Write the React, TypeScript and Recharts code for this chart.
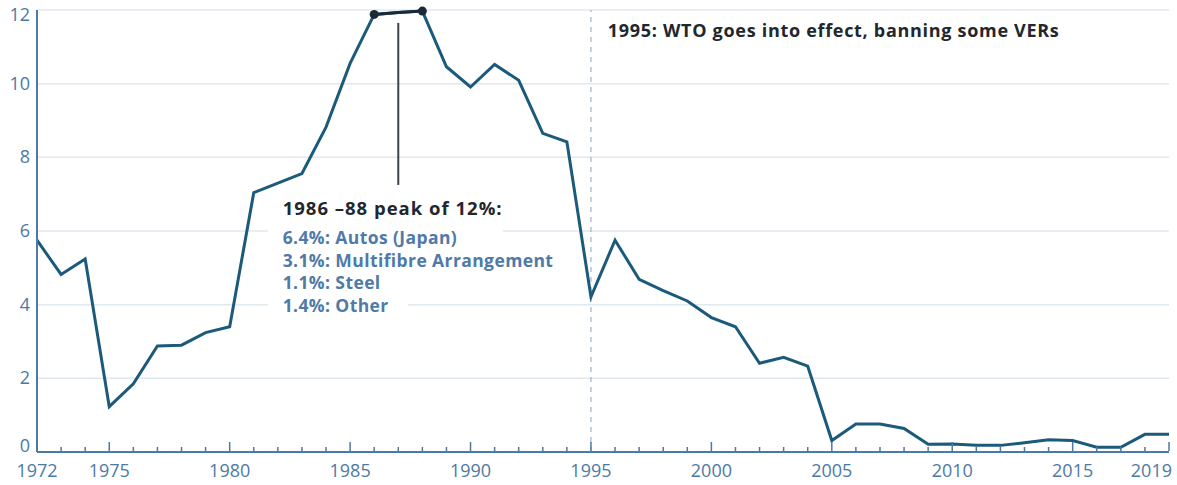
import React from "react";
import {
  LineChart,
  Line,
  XAxis,
  YAxis,
  CartesianGrid,
  ReferenceLine,
  ReferenceDot,
} from "recharts";

const years = [
  1972, 1973, 1974, 1975, 1976, 1977, 1978, 1979, 1980, 1981, 1982, 1983,
  1984, 1985, 1986, 1987, 1988, 1989, 1990, 1991, 1992, 1993, 1994, 1995,
  1996, 1997, 1998, 1999, 2000, 2001, 2002, 2003, 2004, 2005, 2006, 2007,
  2008, 2009, 2010, 2011, 2012, 2013, 2014, 2015, 2016, 2017, 2018, 2019,
];

const shares = [
  5.75, 4.82, 5.24, 1.23, 1.85, 2.88, 2.9, 3.24, 3.4, 7.04, 7.3, 7.56,
  8.82, 10.55, 11.88, 11.93, 11.97, 10.46, 9.91, 10.52, 10.09, 8.65, 8.42, 4.21,
  5.75, 4.69, 4.38, 4.1, 3.65, 3.4, 2.41, 2.57, 2.33, 0.31, 0.76, 0.76,
  0.64, 0.21, 0.22, 0.18, 0.18, 0.25, 0.33, 0.31, 0.13, 0.13, 0.48, 0.48,
];

const labeledYears = [1972, 1975, 1980, 1985, 1990, 1995, 2000, 2005, 2010, 2015, 2019];
const yTicks = [0, 2, 4, 6, 8, 10, 12];
const peakYears = [1986, 1987, 1988];
const peakDotYears = [1986, 1988];

const peakTitle = "1986 \u201388 peak of 12%:";
const peakLines = [
  "6.4%: Autos (Japan)",
  "3.1%: Multifibre Arrangement",
  "1.1%: Steel",
  "1.4%: Other",
];
const wtoNote = "1995: WTO goes into effect, banning some VERs";

const data = years.map((year, i) => ({
  year,
  share: shares[i],
  peak: peakYears.includes(year) ? shares[i] : null,
}));

const FONT = "'Open Sans', sans-serif";
const AXIS_BLUE = "#4d79a5";
const LINE_BLUE = "#1c5a7c";
const DARK = "#22272d";

function XTick({ x, y, payload }: any) {
  const major = labeledYears.includes(payload.value);
  const last = payload.value === 2019;
  return (
    <g>
      <line x1={x} x2={x} y1={y - 1} y2={y - (major ? 10 : 5)} stroke={AXIS_BLUE} strokeWidth={1.5} />
      {major && (
        <text
          x={last ? x + 3 : x}
          y={y + 25}
          textAnchor={last ? "end" : "middle"}
          fill={AXIS_BLUE}
          fontSize={18}
          fontFamily={FONT}
        >
          {payload.value}
        </text>
      )}
    </g>
  );
}

function YTick({ x, y, payload }: any) {
  let dy = 6;
  if (payload.value === 12) dy = 11;
  if (payload.value === 0) dy = 0;
  return (
    <text x={x - 7} y={y + dy} textAnchor="end" fill={AXIS_BLUE} fontSize={18} fontFamily={FONT}>
      {payload.value}
    </text>
  );
}

function PeakNote({ cx, cy }: any) {
  if (cx == null || cy == null) return null;
  const widths = [245, 235, 300, 130, 140];
  return (
    <g>
      <rect x={cx - 15} y={cy - 14} width={widths[0]} height={26} fill="#fff" />
      {peakLines.map((_, i) => (
        <rect key={i} x={cx - 15} y={cy + 14 + i * 22.6} width={widths[i + 1]} height={22} fill="#fff" />
      ))}
      <text x={cx} y={cy + 7} fill={DARK} fontSize={18.5} fontWeight={700} fontFamily={FONT} letterSpacing={1}>
        {peakTitle}
      </text>
      {peakLines.map((t, i) => (
        <text
          key={t}
          x={cx}
          y={cy + 36 + i * 22.6}
          fill="#4f7aa8"
          fontSize={17.5}
          fontWeight={700}
          fontFamily={FONT}
          letterSpacing={0.4}
        >
          {t}
        </text>
      ))}
    </g>
  );
}

function WtoNote({ cx, cy }: any) {
  if (cx == null || cy == null) return null;
  return (
    <text x={cx} y={cy + 7} fill={DARK} fontSize={18} fontWeight={700} fontFamily={FONT} letterSpacing={0.7}>
      {wtoNote}
    </text>
  );
}

function peakDot({ cx, cy, payload }: any) {
  if (!peakDotYears.includes(payload.year)) return <g key={payload.year} />;
  return <circle key={payload.year} cx={cx} cy={cy} r={4.5} fill="#1b2a38" />;
}

export default function App() {
  return (
    <div style={{ position: "absolute", left: 0, top: 0, background: "#fff" }}>
      <LineChart
        width={1177}
        height={485}
        data={data}
        margin={{ top: 10, right: 8, left: 0, bottom: 0 }}
      >
        <CartesianGrid vertical={false} stroke="#e0e8f0" strokeWidth={1.5} />
        <XAxis
          dataKey="year"
          type="number"
          domain={[1972, 2019]}
          ticks={years}
          interval={0}
          tick={<XTick />}
          tickLine={false}
          tickSize={0}
          tickMargin={0}
          axisLine={{ stroke: AXIS_BLUE, strokeWidth: 2 }}
          height={33}
        />
        <YAxis
          domain={[0, 12]}
          ticks={yTicks}
          tick={<YTick />}
          tickLine={false}
          tickSize={0}
          tickMargin={0}
          axisLine={{ stroke: AXIS_BLUE, strokeWidth: 2 }}
          width={37}
        />
        <ReferenceLine x={1995} stroke="#86a3bf" strokeWidth={1} strokeDasharray="5 5" />
        <ReferenceLine
          segment={[
            { x: 1987, y: 11.65 },
            { x: 1987, y: 7.25 },
          ]}
          stroke="#3a444d"
          strokeWidth={2}
        />
        <ReferenceDot x={1982.2} y={6.62} r={0} shape={<PeakNote />} />
        <ReferenceDot x={1995.7} y={11.45} r={0} shape={<WtoNote />} />
        <Line
          type="linear"
          dataKey="share"
          stroke={LINE_BLUE}
          strokeWidth={3}
          dot={false}
          isAnimationActive={false}
        />
        <Line
          type="linear"
          dataKey="peak"
          stroke="#1b2a38"
          strokeWidth={3}
          dot={peakDot}
          activeDot={false}
          connectNulls={false}
          isAnimationActive={false}
        />
      </LineChart>
    </div>
  );
}
